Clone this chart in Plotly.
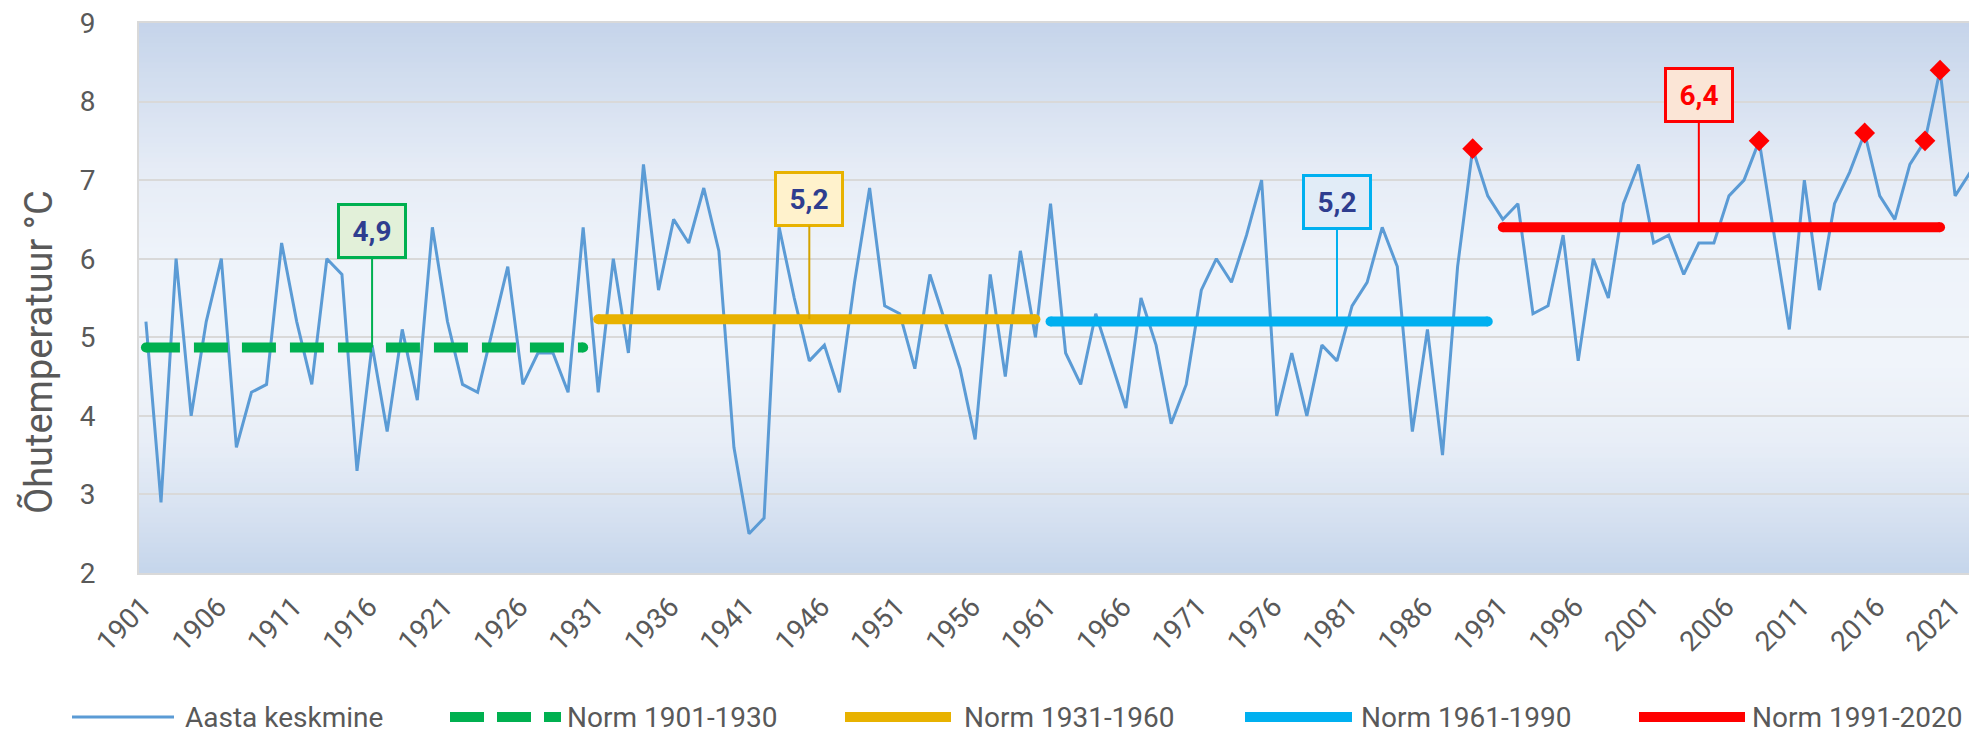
import plotly.graph_objects as go

# Aasta keskmine õhutemperatuur (°C), 1901-2022
years = list(range(1901, 2023))
annual_mean = [
    5.2, 2.9, 6.0, 4.0, 5.2, 6.0, 3.6, 4.3, 4.4, 6.2,   # 1901-1910
    5.2, 4.4, 6.0, 5.8, 3.3, 4.9, 3.8, 5.1, 4.2, 6.4,   # 1911-1920
    5.2, 4.4, 4.3, 5.1, 5.9, 4.4, 4.8, 4.8, 4.3, 6.4,   # 1921-1930
    4.3, 6.0, 4.8, 7.2, 5.6, 6.5, 6.2, 6.9, 6.1, 3.6,   # 1931-1940
    2.5, 2.7, 6.4, 5.5, 4.7, 4.9, 4.3, 5.7, 6.9, 5.4,   # 1941-1950
    5.3, 4.6, 5.8, 5.2, 4.6, 3.7, 5.8, 4.5, 6.1, 5.0,   # 1951-1960
    6.7, 4.8, 4.4, 5.3, 4.7, 4.1, 5.5, 4.9, 3.9, 4.4,   # 1961-1970
    5.6, 6.0, 5.7, 6.3, 7.0, 4.0, 4.8, 4.0, 4.9, 4.7,   # 1971-1980
    5.4, 5.7, 6.4, 5.9, 3.8, 5.1, 3.5, 5.9, 7.4, 6.8,   # 1981-1990
    6.5, 6.7, 5.3, 5.4, 6.3, 4.7, 6.0, 5.5, 6.7, 7.2,   # 1991-2000
    6.2, 6.3, 5.8, 6.2, 6.2, 6.8, 7.0, 7.5, 6.3, 5.1,   # 2001-2010
    7.0, 5.6, 6.7, 7.1, 7.6, 6.8, 6.5, 7.2, 7.5, 8.4,   # 2011-2020
    6.8, 7.1,                                           # 2021-2022
]
record_years = [1989, 2008, 2015, 2019, 2020]

# kliimanormid
norm_names = ["Norm 1901-1930", "Norm 1931-1960", "Norm 1961-1990", "Norm 1991-2020"]
norm_start = [1901, 1931, 1961, 1991]
norm_end = [1930, 1960, 1990, 2020]
norm_values = [4.87, 5.23, 5.20, 6.40]
norm_labels = ["4,9", "5,2", "5,2", "6,4"]
label_years = [1916, 1945, 1980, 2004]

norm_colors = ["#00b050", "#e8b200", "#00b0f0", "#ff0000"]
norm_dash = ["34px,14px", "solid", "solid", "solid"]
box_fill = ["#e2f0d9", "#fff2cc", "#e1ecf7", "#fbe5d6"]
box_text = ["#2e3d8f", "#2e3d8f", "#2e3d8f", "#ff0000"]
stem_color = ["#00b050", "#d4a300", "#00b0f0", "#ff0000"]
label_lift = [-117, -120, -120, -132]

line_color = "#5b9bd5"
grey = "#595959"

# plot area in pixels
L, T, R, B = 139, 23, 1969, 573
W, H = R - L, B - T


def px(x):
    return (x - L) / W


def py(y):
    return (B - y) / H


fig = go.Figure()

fig.add_trace(go.Scatter(x=years, y=annual_mean, mode="lines", name="Aasta keskmine",
                         line=dict(color=line_color, width=3)))

rec_vals = [annual_mean[years.index(y)] for y in record_years]
fig.add_trace(go.Scatter(x=record_years, y=rec_vals, mode="markers", showlegend=False,
                         marker=dict(symbol="diamond", size=16, color="#ff0000")))

for i in range(4):
    fig.add_trace(go.Scatter(x=[norm_start[i], norm_end[i]], y=[norm_values[i]] * 2,
                             mode="lines+markers", name=norm_names[i],
                             line=dict(color=norm_colors[i], width=10, dash=norm_dash[i]),
                             marker=dict(size=10, color=norm_colors[i], line=dict(width=0))))

# background gradient of the plot area
stops = [(0.0, (197, 212, 234)), (0.13, (213, 224, 240)), (0.27, (230, 236, 246)),
         (0.42, (238, 243, 250)), (0.62, (240, 244, 250)), (0.76, (232, 238, 247)),
         (0.89, (215, 226, 241)), (1.0, (197, 213, 235))]
shapes = []
nb = 110
for k in range(nb):
    f = (k + 0.5) / nb
    for j in range(len(stops) - 1):
        if stops[j][0] <= f <= stops[j + 1][0]:
            a, ca = stops[j]
            b, cb = stops[j + 1]
            t = (f - a) / (b - a)
            c = tuple(round(ca[m] + (cb[m] - ca[m]) * t) for m in range(3))
            break
    shapes.append(dict(type="rect", xref="paper", yref="paper", x0=0, x1=1,
                       y0=1 - (k + 1) / nb, y1=1 - k / nb + 0.001, layer="below",
                       line=dict(width=0), fillcolor="rgb(%d,%d,%d)" % c))

annotations = []
for i in range(4):
    annotations.append(dict(
        x=label_years[i], y=norm_values[i], xref="x", yref="y",
        text="<b>%s</b>" % norm_labels[i], showarrow=True, arrowhead=0,
        arrowwidth=2, arrowcolor=stem_color[i], ax=0, ay=label_lift[i], standoff=0,
        font=dict(family="Roboto", size=28, color=box_text[i]),
        bgcolor=box_fill[i], bordercolor=norm_colors[i], borderwidth=3, borderpad=0,
        width=64, height=50, align="center", valign="middle"))

# y-axis title, placed like in the original (lower than the axis middle)
annotations.append(dict(x=px(38), y=py(352), xref="paper", yref="paper",
                        text="Õhutemperatuur °C", textangle=-90, showarrow=False,
                        xanchor="center", yanchor="middle",
                        font=dict(family="Roboto", size=38, color=grey)))

# legend drawn below the chart
leg_y = 717
leg_names = ["Aasta keskmine"] + norm_names
leg_colors = [line_color] + norm_colors
leg_widths = [3, 10, 10, 10, 10]
leg_dash = ["solid", "34px,13px", "solid", "solid", "solid"]
leg_x0 = [72, 450, 845, 1245, 1639]
leg_x1 = [174, 561, 951, 1352, 1745]
leg_tx = [184, 566, 963, 1360, 1751]
for i in range(5):
    shapes.append(dict(type="line", xref="paper", yref="paper",
                       x0=px(leg_x0[i]), x1=px(leg_x1[i]), y0=py(leg_y), y1=py(leg_y),
                       line=dict(color=leg_colors[i], width=leg_widths[i], dash=leg_dash[i])))
    annotations.append(dict(x=px(leg_tx[i]), y=py(leg_y), xref="paper", yref="paper",
                            text=leg_names[i], showarrow=False, xanchor="left",
                            yanchor="middle", borderpad=0,
                            font=dict(family="Roboto", size=28, color=grey)))

fig.update_layout(
    width=1969, height=735,
    margin=dict(l=L, r=0, t=T, b=735 - B),
    paper_bgcolor="white", plot_bgcolor="rgba(0,0,0,0)",
    showlegend=False,
    font=dict(family="Roboto", size=28, color=grey),
    shapes=shapes, annotations=annotations,
)
fig.update_xaxes(range=[1900.54, 2021.92], tickmode="linear", tick0=1901, dtick=5,
                 tickangle=-45, showgrid=False, zeroline=False,
                 showline=True, linecolor="#d9d9d9", linewidth=2, mirror=True,
                 ticks="", ticklabelstandoff=4, ticklabelshift=-3,
                 ticklabeloverflow="allow",
                 tickfont=dict(family="Roboto", size=28, color=grey), automargin=False)
fig.update_yaxes(range=[2, 9], tickmode="linear", tick0=2, dtick=1,
                 showgrid=True, gridcolor="#d9d9d9", gridwidth=2, zeroline=False,
                 showline=True, linecolor="#d9d9d9", linewidth=2,
                 ticks="", ticklabelstandoff=36,
                 tickfont=dict(family="Roboto", size=28, color=grey),
                 automargin=False)

fig.write_html("out.html", config={"displayModeBar": False},
               post_script="document.body.style.margin='0';")
